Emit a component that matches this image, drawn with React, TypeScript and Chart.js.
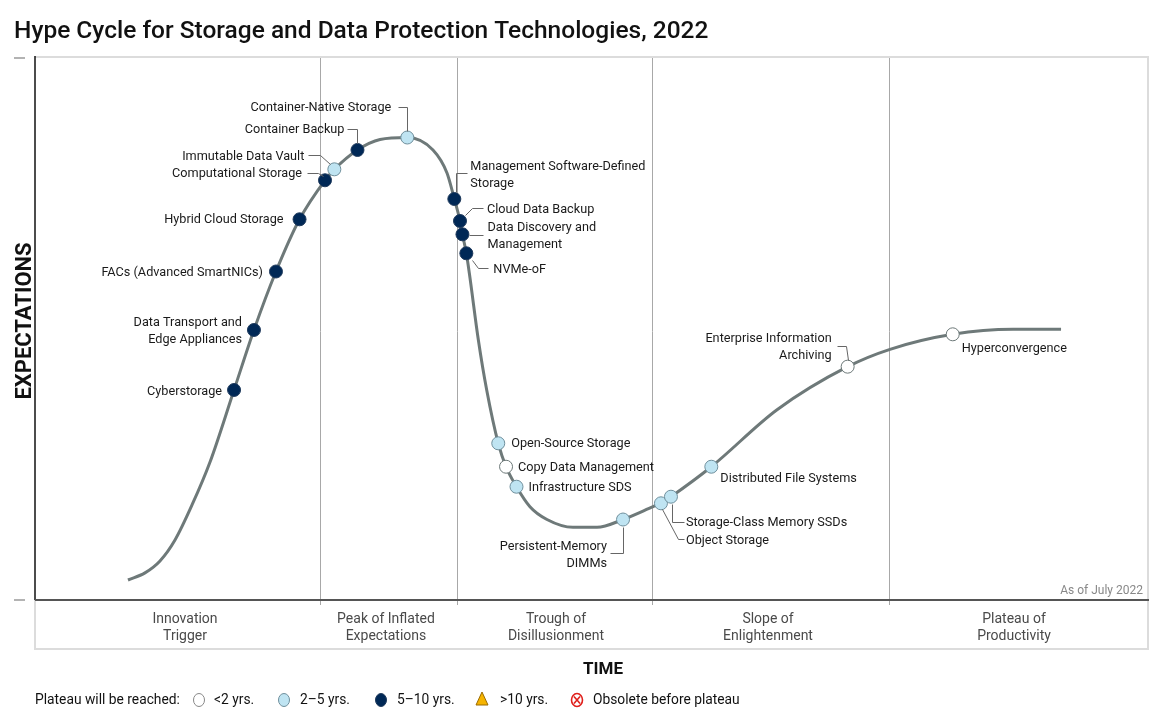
import { useEffect, useRef } from "react";
import { Chart, registerables } from "chart.js";

Chart.register(...registerables);

// ---------- data ----------
const TITLE = "Hype Cycle for Storage and Data Protection Technologies, 2022";
const X_TITLE = "TIME";
const Y_TITLE = "EXPECTATIONS";
const AS_OF = "As of July 2022";

const techNames = [
  "Cyberstorage",
  "Data Transport and\nEdge Appliances",
  "FACs (Advanced SmartNICs)",
  "Hybrid Cloud Storage",
  "Computational Storage",
  "Immutable Data Vault",
  "Container Backup",
  "Container-Native Storage",
  "Management Software-Defined\nStorage",
  "Cloud Data Backup",
  "Data Discovery and\nManagement",
  "NVMe-oF",
  "Open-Source Storage",
  "Copy Data Management",
  "Infrastructure SDS",
  "Persistent-Memory\nDIMMs",
  "Object Storage",
  "Storage-Class Memory SSDs",
  "Distributed File Systems",
  "Enterprise Information\nArchiving",
  "Hyperconvergence",
];
const techTime = [
  17.9, 19.69, 21.67, 23.79, 26.08, 26.92, 29.0, 33.48, 37.71, 38.22, 38.44,
  38.79, 41.66, 42.36, 43.3, 52.88, 56.29, 57.19, 60.82, 73.08, 82.53,
];
const techExpect = [
  38.75, 49.82, 60.61, 70.24, 77.44, 79.46, 83.03, 85.33, 73.99, 69.93, 67.47,
  63.97, 28.91, 24.59, 20.9, 14.85, 17.84, 19.06, 24.59, 43.05, 49.02,
];
// plateau category: 0 = <2 yrs, 1 = 2-5 yrs, 2 = 5-10 yrs
const techPlateau = [2, 2, 2, 2, 2, 1, 2, 1, 2, 2, 2, 2, 1, 0, 1, 1, 1, 1, 1, 0, 0];

const curveTime = [
  8.36, 9.89, 11.24, 12.59, 14.12, 15.74, 17.9, 19.69, 21.67, 23.79, 26.08,
  26.92, 29.0, 31.03, 33.48, 35.79, 37.05, 37.71, 38.22, 38.44, 38.79, 39.06,
  39.87, 40.62, 41.66, 42.36, 43.3, 44.51, 46.04, 48.38, 50.54, 52.88, 55.58,
  56.29, 57.19, 60.82, 66.7, 73.08, 76.89, 82.53, 87.95, 92.27,
];
const curveExpect = [
  3.69, 5.0, 7.2, 11.07, 17.53, 25.46, 38.75, 49.82, 60.61, 70.24, 77.44,
  79.46, 83.03, 84.96, 85.33, 83.03, 78.78, 73.99, 69.93, 67.47, 63.97, 60.28,
  47.97, 38.75, 28.91, 24.59, 20.9, 17.21, 14.85, 13.41, 13.41, 14.85, 17.21,
  17.84, 19.06, 24.59, 35.06, 43.05, 46.25, 49.02, 49.94, 49.94,
];

const phaseNames = [
  "Innovation\nTrigger",
  "Peak of Inflated\nExpectations",
  "Trough of\nDisillusionment",
  "Slope of\nEnlightenment",
  "Plateau of\nProductivity",
];
const phaseCenters = [13.49, 31.56, 46.85, 65.92, 88.04];
const phaseBounds = [25.63, 37.95, 55.49, 76.8];

const legendTitle = "Plateau will be reached:";
const legendLabels = ["<2 yrs.", "2\u20135 yrs.", "5\u201310 yrs.", ">10 yrs.", "Obsolete before plateau"];

// ---------- styles / layout ----------
const FONT = "Roboto, 'Noto Sans', sans-serif";
const fills = ["#ffffff", "#bfe4f2", "#002856"];
const borders = ["#6c7878", "#6f8f9c", "#1f3a5c"];
const CURVE_COLOR = "#6e7979";

type Lay = { align: "left" | "right"; dx: number; dy: number; leader?: number[][] };
const labelLayout: Lay[] = [
  { align: "right", dx: -12, dy: 1 },
  { align: "right", dx: -12, dy: -8 },
  { align: "right", dx: -13, dy: 0 },
  { align: "right", dx: -16, dy: 0 },
  { align: "right", dx: -23, dy: -7, leader: [[-18, -7], [-7, -7], [-2, -4]] },
  { align: "right", dx: -30, dy: -14, leader: [[-26, -14], [-14, -14], [-4, -5]] },
  { align: "right", dx: -13, dy: -21, leader: [[-10, -21], [0, -21], [0, -7]] },
  { align: "right", dx: -16, dy: -31, leader: [[-9, -31], [0, -31], [0, -7]] },
  { align: "left", dx: 16, dy: -33, leader: [[13, -26], [2, -26], [2, -7]] },
  { align: "left", dx: 27, dy: -12, leader: [[23, -13], [12, -13], [5, -6]] },
  { align: "left", dx: 25, dy: -7, leader: [[21, 1], [7, 1]] },
  { align: "left", dx: 27, dy: 16, leader: [[22, 15], [12, 15], [6, 7]] },
  { align: "left", dx: 13, dy: 0 },
  { align: "left", dx: 12, dy: 0 },
  { align: "left", dx: 12, dy: 0 },
  { align: "right", dx: -16, dy: 26, leader: [[-13, 33], [0, 33], [0, 7]] },
  { align: "left", dx: 25, dy: 37, leader: [[23, 36], [17, 36], [1, 6]] },
  { align: "left", dx: 15, dy: 25, leader: [[13, 25], [1, 25], [1, 7]] },
  { align: "left", dx: 9, dy: 11 },
  { align: "right", dx: -16, dy: -29, leader: [[-11, -21], [-2, -21], [0, -7]] },
  { align: "left", dx: 9, dy: 14 },
];

const decor = {
  id: "hypeDecor",
  beforeDatasetsDraw(chart: any) {
    const { ctx, chartArea: a, scales } = chart;
    const xs = scales.x;
    ctx.save();
    // title
    ctx.fillStyle = "#111";
    ctx.font = `500 24.5px ${FONT}`;
    ctx.textAlign = "left";
    ctx.textBaseline = "alphabetic";
    ctx.fillText(TITLE, 14, 38);
    // light frame (top/right of plot, phase box)
    ctx.strokeStyle = "#dcdcdc";
    ctx.lineWidth = 2;
    ctx.beginPath();
    ctx.moveTo(a.left, a.top - 1);
    ctx.lineTo(a.right + 1, a.top - 1);
    ctx.lineTo(a.right + 1, a.bottom + 49);
    ctx.lineTo(a.left, a.bottom + 49);
    ctx.lineTo(a.left, a.bottom);
    ctx.stroke();
    // small ticks at left
    ctx.strokeStyle = "#9a9a9a";
    ctx.lineWidth = 1.5;
    ctx.beginPath();
    ctx.moveTo(14, a.top);
    ctx.lineTo(25, a.top);
    ctx.moveTo(14, a.bottom);
    ctx.lineTo(25, a.bottom);
    ctx.stroke();
    // phase dividers
    ctx.strokeStyle = "#a8a8a8";
    ctx.lineWidth = 1;
    phaseBounds.forEach((b) => {
      const px = Math.round(xs.getPixelForValue(b)) + 0.5;
      ctx.beginPath();
      ctx.moveTo(px, a.top);
      ctx.lineTo(px, a.bottom + 5);
      ctx.stroke();
    });
    // axes
    ctx.strokeStyle = "#111";
    ctx.lineWidth = 1.5;
    ctx.beginPath();
    ctx.moveTo(a.left, a.top - 2);
    ctx.lineTo(a.left, a.bottom);
    ctx.stroke();
    ctx.strokeStyle = "#555";
    ctx.lineWidth = 2;
    ctx.beginPath();
    ctx.moveTo(a.left, a.bottom);
    ctx.lineTo(a.right + 2, a.bottom);
    ctx.stroke();
    // phase labels
    ctx.fillStyle = "#4a4a4a";
    ctx.font = `14px ${FONT}`;
    ctx.textAlign = "center";
    ctx.textBaseline = "middle";
    phaseNames.forEach((n, i) => {
      const cx = xs.getPixelForValue(phaseCenters[i]);
      n.split("\n").forEach((s, k) => ctx.fillText(s, cx, a.bottom + 19 + k * 17));
    });
    // as of
    ctx.fillStyle = "#888";
    ctx.font = `12px ${FONT}`;
    ctx.textAlign = "right";
    ctx.fillText(AS_OF, a.right - 4, a.bottom - 9);
    // axis titles
    ctx.fillStyle = "#111";
    ctx.font = `bold 17px ${FONT}`;
    ctx.textAlign = "center";
    ctx.fillText(X_TITLE, 603, a.bottom + 70);
    ctx.save();
    ctx.translate(25, 321);
    ctx.rotate(-Math.PI / 2);
    ctx.font = `bold 22px ${FONT}`;
    ctx.fillText(Y_TITLE, 0, 0);
    ctx.restore();
    ctx.restore();
  },
  afterDatasetsDraw(chart: any) {
    const { ctx } = chart;
    const meta = chart.getDatasetMeta(0);
    ctx.save();
    ctx.font = `12.7px ${FONT}`;
    ctx.textBaseline = "middle";
    meta.data.forEach((pt: any, i: number) => {
      const mx = pt.x;
      const my = pt.y;
      const L = labelLayout[i];
      if (L.leader) {
        ctx.strokeStyle = "#666";
        ctx.lineWidth = 1;
        ctx.beginPath();
        L.leader.forEach(([lx, ly], k) => {
          const px = Math.round(mx + lx) + 0.5;
          const py = Math.round(my + ly) + 0.5;
          if (k === 0) ctx.moveTo(px, py);
          else ctx.lineTo(px, py);
        });
        ctx.stroke();
      }
      ctx.fillStyle = "#1a1a1a";
      ctx.textAlign = L.align;
      techNames[i].split("\n").forEach((s, k) => ctx.fillText(s, mx + L.dx, my + L.dy + 1 + k * 17));
    });
    // legend
    const ly = 700;
    ctx.font = `13.8px ${FONT}`;
    ctx.textAlign = "left";
    ctx.fillStyle = "#111";
    ctx.fillText(legendTitle, 35, ly + 1);
    const circ = (cx: number, f: string, b: string) => {
      ctx.beginPath();
      ctx.ellipse(cx, ly, 5.5, 6.5, 0, 0, Math.PI * 2);
      ctx.fillStyle = f;
      ctx.fill();
      ctx.strokeStyle = b;
      ctx.lineWidth = 1;
      ctx.stroke();
    };
    circ(199, fills[0], "#888");
    circ(284, fills[1], borders[1]);
    circ(381, fills[2], borders[2]);
    // triangle
    ctx.beginPath();
    ctx.moveTo(482, ly - 8);
    ctx.lineTo(488, ly + 5);
    ctx.lineTo(476, ly + 5);
    ctx.closePath();
    ctx.fillStyle = "#f6b400";
    ctx.fill();
    ctx.strokeStyle = "#9a6b00";
    ctx.stroke();
    // obsolete
    ctx.beginPath();
    ctx.ellipse(577, ly, 5.5, 6.5, 0, 0, Math.PI * 2);
    ctx.fillStyle = "#fff";
    ctx.fill();
    ctx.strokeStyle = "#e0201c";
    ctx.lineWidth = 1.6;
    ctx.stroke();
    ctx.beginPath();
    ctx.moveTo(574, ly - 3.5);
    ctx.lineTo(580, ly + 3.5);
    ctx.moveTo(580, ly - 3.5);
    ctx.lineTo(574, ly + 3.5);
    ctx.stroke();
    ctx.fillStyle = "#111";
    const lx = [214, 300, 397, 500, 593];
    legendLabels.forEach((s, i) => ctx.fillText(s, lx[i], ly + 1));
    ctx.restore();
  },
};

export default function App() {
  const ref = useRef<HTMLCanvasElement>(null);
  useEffect(() => {
    if (!ref.current) return;
    const markers = techTime.map((x, i) => ({ x, y: techExpect[i] }));
    const curve = curveTime.map((x, i) => ({ x, y: curveExpect[i] }));
    const chart = new Chart(ref.current, {
      type: "scatter",
      data: {
        datasets: [
          {
            label: "Technologies",
            data: markers,
            pointRadius: 6.5,
            pointBorderWidth: 1,
            pointBackgroundColor: techPlateau.map((c) => fills[c]),
            pointBorderColor: techPlateau.map((c) => borders[c]),
          } as any,
          {
            label: "Hype curve",
            data: curve,
            showLine: true,
            borderColor: CURVE_COLOR,
            borderWidth: 3,
            pointRadius: 0,
            cubicInterpolationMode: "monotone",
          } as any,
        ],
      },
      options: {
        animation: false,
        responsive: false,
        devicePixelRatio: 1,
        layout: { padding: { left: 35, top: 58, right: 23, bottom: 125 } },
        scales: {
          x: { type: "linear", min: 0, max: 100, display: false },
          y: { type: "linear", min: 0, max: 100, display: false },
        },
        plugins: {
          legend: { display: false },
          tooltip: { enabled: false },
        },
        events: [],
      },
      plugins: [decor],
    });
    return () => chart.destroy();
  }, []);
  return (
    <div style={{ position: "absolute", left: 0, top: 0, width: 1170, height: 725, background: "#fff" }}>
      <canvas ref={ref} width={1170} height={725} />
    </div>
  );
}
